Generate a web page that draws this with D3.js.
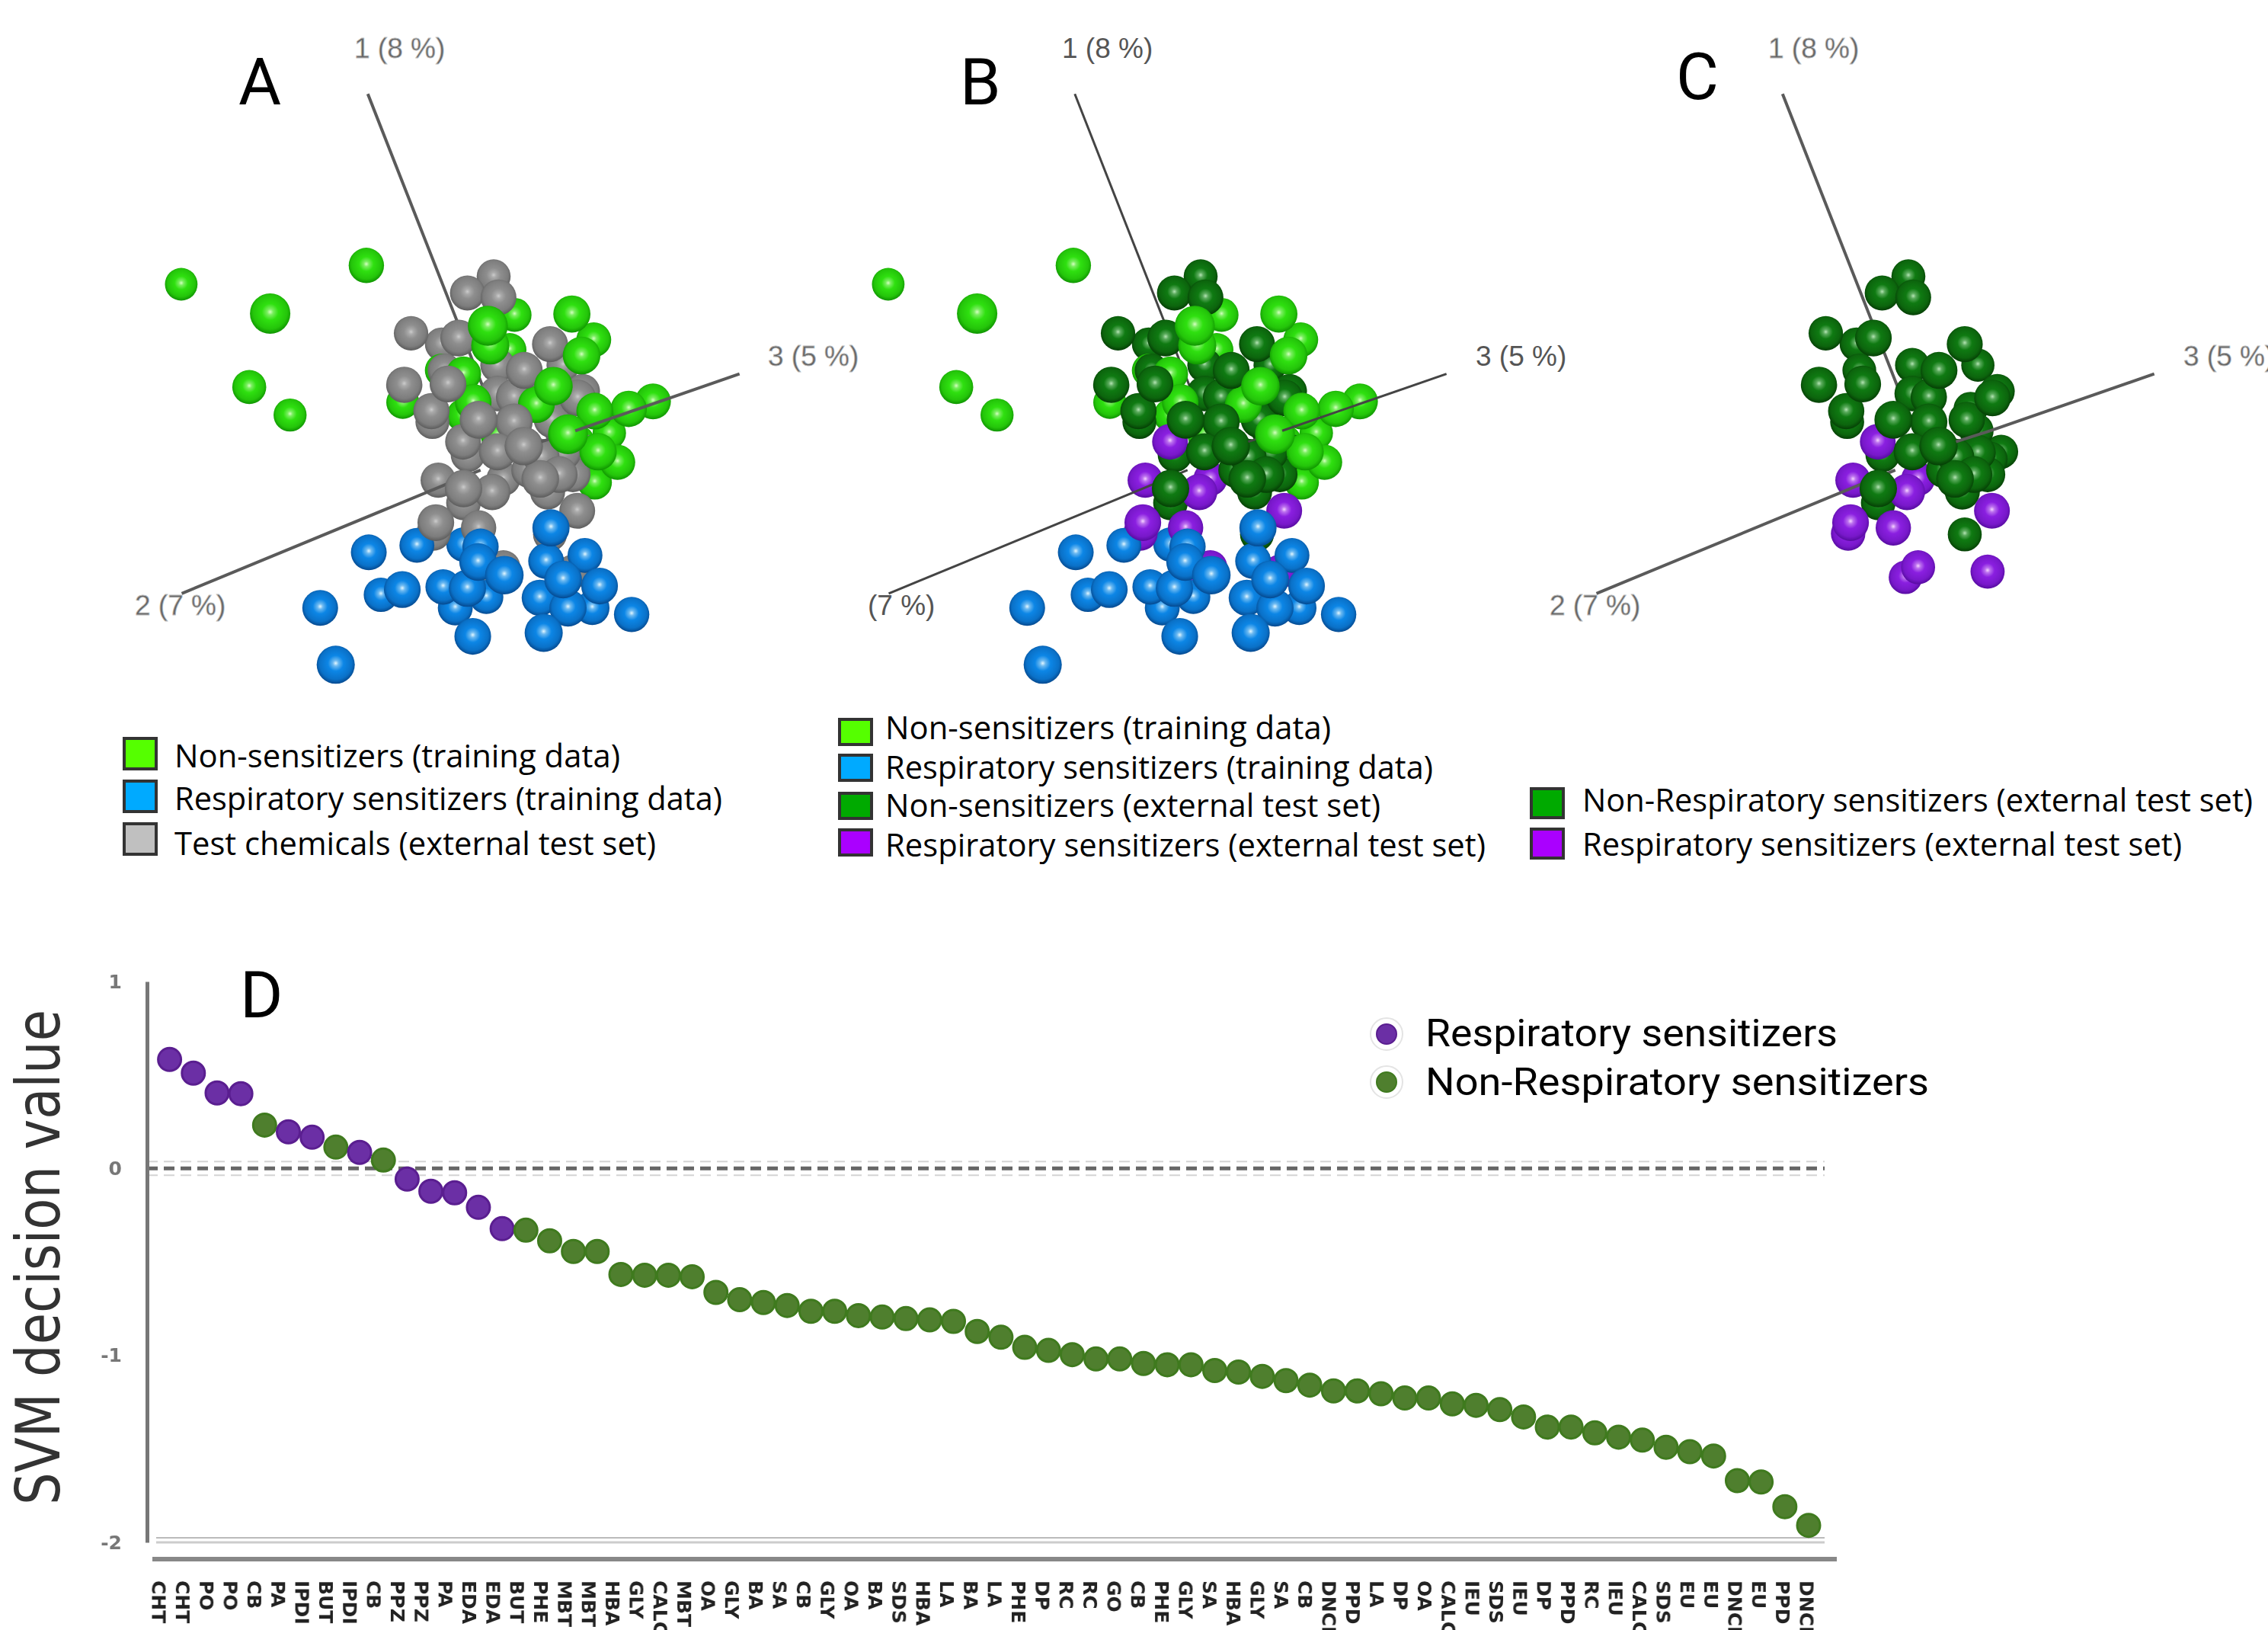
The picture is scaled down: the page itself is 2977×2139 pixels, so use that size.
<!DOCTYPE html>
<html>
<head>
<meta charset="utf-8">
<script src="https://cdn.jsdelivr.net/npm/d3@7"></script>
<style>
  html, body { margin: 0; background: #fff; }
  svg { display: block; }
</style>
</head>
<body>
<div id="chart"></div>
<script>
// projected scores: [axis x, axis y, depth]
const nonTrain = [
  [119,615,15],[302,682,100],[500,572,45],[259,850,30],[343,914,20],
  [805,685,30],[750,710,96],[755,755,75],[795,765,25],[923,683,65],[968,742,40],[943,778,70],
  [700,820,42],[885,848,80],[850,890,62],[720,885,58],[575,885,20],[1040,900,55],[1090,883,50],
  [970,905,60],[915,958,95],[977,998,66],[1017,1022,45],[970,1068,35],[700,915,28],[770,960,30],
  [935,975,28],[860,1020,25],[900,1000,30],[945,1030,28],[1000,955,24],[655,812,26]
];
const respTrain = [
  [505,1228,50],[604,1212,40],[700,1210,35],[735,1215,55],[730,1250,70],[784,1280,80],[530,1325,35],
  [574,1313,60],[658,1307,45],[708,1310,65],[683,1355,40],[747,1330,30],[405,1355,50],[437,1485,75],
  [719,1420,60],[865,1412,75],[880,1172,65],[870,1248,50],[950,1235,40],[857,1332,55],[905,1290,70],
  [980,1305,60],[915,1355,65],[965,1355,35],[1046,1370,45]
];
const nonExternal = [
  [762,597,30],[708,635,40],[772,645,50],[592,727,35],[655,752,25],[690,738,60],[770,800,35],
  [825,812,62],[878,752,52],[905,800,22],[661,812,28],[668,843,60],[578,845,55],[634,905,55],
  [636,930,30],[770,865,48],[804,873,56],[935,875,58],[945,860,40],[731,925,72],[804,930,65],
  [882,925,55],[902,950,35],[824,985,78],[770,998,65],[709,1005,35],[953,998,30],[858,1060,70],
  [897,1050,60],[925,1050,45],[873,1090,42],[700,1082,68],[700,1115,38],[878,1187,30],[890,900,32],[950,1000,22],
  [860,1010,58],[905,1000,50],[835,1040,48],[930,1015,44]
];
const respExternal = [
  [699,975,50],[648,1063,45],[782,1060,30],[759,1090,55],[643,1160,60],[638,1185,35],
  [731,1172,45],[934,1133,50],[782,1262,30],[756,1285,25],[925,1272,32]
];
// axis lines of the 3D view: from, to, depth
const axisLines = [
  [503,180,740,850,40],
  [120,1322,735,1040,47],
  [1268,820,930,950,200],
  [930,950,860,975,90]
];

// panel D
const compounds = ["CHT","CHT","PO","PO","CB","PA","IPDI","BUT","IPDI","CB","PPZ","PPZ","PA","EDA","EDA","BUT","PHE","MBT","MBT","HBA","GLY","CALC","MBT","OA","GLY",
  "BA","SA","CB","GLY","OA","BA","SDS","HBA","LA","BA","LA","PHE","DP","RC","RC","GO","CB","PHE","GLY","SA","HBA","GLY","SA","CB",
  "DNCB","PPD","LA","DP","OA","CALC","IEU","SDS","IEU","DP","PPD","RC","IEU","CALC","SDS","EU","EU","DNCB","EU","PPD","DNCB"];
const svmValues = [0.583,0.51,0.404,0.40,0.232,0.196,0.167,0.114,0.086,0.045,-0.057,-0.122,-0.13,-0.208,-0.322,-0.33,-0.387,-0.444,-0.444,-0.567,-0.571,-0.571,-0.579,
  -0.663,-0.702,-0.717,-0.733,-0.764,-0.764,-0.787,-0.795,-0.803,-0.81,-0.818,-0.872,-0.903,-0.957,-0.973,-0.996,-1.019,-1.019,-1.043,-1.05,-1.05,-1.081,-1.089,-1.112,
  -1.135,-1.159,-1.19,-1.19,-1.205,-1.228,-1.228,-1.259,-1.267,-1.29,-1.329,-1.383,-1.383,-1.414,-1.437,-1.453,-1.491,-1.515,-1.538,-1.67,-1.677,-1.809,-1.909];
// indexes of the compounds that are respiratory sensitizers
const respIndexes = [0,1,2,3,5,6,8,10,11,12,13,14];
const yTicks = [1,0,-1,-2];

const width = 2977, height = 2139;
const svg = d3.select("#chart").append("svg").attr("width", width).attr("height", height);
const defs = svg.append("defs");
defs.append("filter").attr("id","soft").append("feGaussianBlur").attr("stdDeviation",0.7);

const ballColors = {
  lime:   ["#d4ffc0","#2fe010","#0f9400"],
  blue:   ["#e2f7ff","#0c86e6","#05498f"],
  gray:   ["#cccccc","#8e8e8e","#5c5c5c"],
  forest: ["#b4e4b4","#0f7a12","#053e05"],
  violet: ["#f6d4ff","#8a1fe0","#560ba0"]
};
Object.keys(ballColors).forEach(function(k){
  const g = defs.append("radialGradient").attr("id","ball-"+k).attr("cx","50%").attr("cy","46%").attr("r","54%");
  const c = ballColors[k];
  g.append("stop").attr("offset","0%").attr("stop-color",c[0]);
  g.append("stop").attr("offset","14%").attr("stop-color",d3.interpolateRgb(c[0],c[1])(0.55));
  g.append("stop").attr("offset","38%").attr("stop-color",c[1]);
  g.append("stop").attr("offset","78%").attr("stop-color",d3.interpolateRgb(c[1],c[2])(0.35));
  g.append("stop").attr("offset","100%").attr("stop-color",c[2]);
});

const rScale = d3.scaleLinear().domain([0,100]).range([20.5,26.5]);

function draw3d(cfg){
  const x = d3.scaleLinear().domain([0,1568]).range([1090+cfg.dx, 2090+cfg.dx]);
  const y = d3.scaleLinear().domain([0,1568]).range([20,920]);
  const g = svg.append("g");

  let items = [];
  cfg.groups.forEach(function(gr){
    gr.data.forEach(function(d){ items.push({kind:"ball", color:gr.color, x:d[0], y:d[1], depth:d[2]}); });
  });
  axisLines.forEach(function(a){ items.push({kind:"axis", a:a, depth:a[4]}); });
  items.sort(function(p,q){ return d3.ascending(p.depth,q.depth); });

  items.forEach(function(d){
    if(d.kind=="axis"){
      g.append("line")
        .attr("x1",x(d.a[0])).attr("y1",y(d.a[1]))
        .attr("x2",x(d.a[2])).attr("y2",y(d.a[3]))
        .attr("stroke",cfg.axisColor).attr("stroke-width",cfg.axisWidth);
    } else {
      g.append("circle")
        .attr("cx",x(d.x)).attr("cy",y(d.y)).attr("r",rScale(d.depth))
        .attr("fill","url(#ball-"+d.color+")");
    }
  });

  cfg.labels.forEach(function(l){
    g.append("text").attr("x",l[1]).attr("y",l[2]).text(l[0])
      .style("font-family","'Liberation Sans'").style("font-size","37px")
      .style("fill",cfg.labelColor)
      .style("stroke",cfg.halo).style("stroke-width",0.8);
  });

  g.append("text").attr("x",cfg.letter[1]).attr("y",cfg.letter[2]).text(cfg.letter[0])
    .style("font-family","Roboto").style("font-size","86px").style("fill","#000");

  const lg = svg.append("g");
  cfg.legend.forEach(function(l){
    lg.append("rect").attr("x",cfg.swatchX).attr("y",l.y).attr("width",cfg.swatchW).attr("height",l.h)
      .attr("fill",l.color).attr("stroke","#333").attr("stroke-width",4);
    lg.append("text").attr("x",cfg.textX).attr("y",l.base).text(l.text)
      .attr("textLength",l.len).attr("lengthAdjust","spacingAndGlyphs")
      .style("font-family","'Open Sans'").style("font-size","42px").style("fill","#000");
  });
}

draw3d({
  dx:-928, axisColor:"#5a5a5a", axisWidth:4, halo:"#bbb", labelColor:"#666",
  groups:[{data:nonTrain,color:"lime"},{data:respTrain,color:"blue"},{data:nonExternal,color:"gray"},{data:respExternal,color:"gray"}],
  labels:[["1 (8 %)",465,76],["3 (5 %)",1008,480],["2 (7 %)",177,807]],
  letter:["A",313,137],
  swatchX:163, swatchW:42, textX:229,
  legend:[
    {y:969,h:40,base:1007,len:585,color:"#55ff00",text:"Non-sensitizers (training data)"},
    {y:1025,h:40,base:1063,len:719,color:"#00aaff",text:"Respiratory sensitizers (training data)"},
    {y:1081,h:40,base:1122,len:632,color:"#c0c0c0",text:"Test chemicals (external test set)"}
  ]
});
draw3d({
  dx:0, axisColor:"#444", axisWidth:3, halo:"none", labelColor:"#555",
  groups:[{data:nonTrain,color:"lime"},{data:respTrain,color:"blue"},{data:nonExternal,color:"forest"},{data:respExternal,color:"violet"}],
  labels:[["1 (8 %)",1394,76],["3 (5 %)",1937,480],["(7 %)",1139,807]],
  letter:["B",1260,137],
  swatchX:1102, swatchW:42, textX:1162,
  legend:[
    {y:944,h:33,base:970,len:585,color:"#55ff00",text:"Non-sensitizers (training data)"},
    {y:991,h:33,base:1022,len:719,color:"#00aaff",text:"Respiratory sensitizers (training data)"},
    {y:1041,h:33,base:1072,len:650,color:"#00aa00",text:"Non-sensitizers (external test set)"},
    {y:1089,h:33,base:1124,len:788,color:"#aa00ff",text:"Respiratory sensitizers (external test set)"}
  ]
});
draw3d({
  dx:929, axisColor:"#5a5a5a", axisWidth:4, halo:"#bbb", labelColor:"#666",
  groups:[{data:nonExternal,color:"forest"},{data:respExternal,color:"violet"}],
  labels:[["1 (8 %)",2321,76],["3 (5 %)",2866,480],["2 (7 %)",2034,807]],
  letter:["C",2200,130],
  swatchX:2010, swatchW:42, textX:2077,
  legend:[
    {y:1035,h:38,base:1065,len:880,color:"#00aa00",text:"Non-Respiratory sensitizers (external test set)"},
    {y:1088,h:38,base:1123,len:787,color:"#aa00ff",text:"Respiratory sensitizers (external test set)"}
  ]
});

// panel D
const idx = d3.range(compounds.length);
const xPt = d3.scalePoint().domain(idx).range([222.6,2374]);
const xLab = d3.scalePoint().domain(idx).range([208,2371]);
const yVal = d3.scaleLinear().domain([1,-2]).range([1288,2024]);

const d = svg.append("g");
d.append("text").attr("x",315).attr("y",1335).text("D")
  .style("font-family","Roboto").style("font-size","86px").style("fill","#000");

// the picture's resampling leaves pale ghost lines by the zero line
[-9,9].forEach(function(off){
  d.append("line").attr("x1",193).attr("x2",2395).attr("y1",yVal(0)+off).attr("y2",yVal(0)+off)
    .attr("stroke","#d4d4d4").attr("stroke-width",2).attr("stroke-dasharray","14 8");
});
d.append("line").attr("x1",193).attr("x2",2395).attr("y1",yVal(0)).attr("y2",yVal(0))
  .attr("stroke","#666").attr("stroke-width",5).attr("stroke-dasharray","14 8");

d.append("line").attr("x1",205).attr("x2",2395).attr("y1",2018).attr("y2",2018).attr("stroke","#bbb").attr("stroke-width",2);
d.append("line").attr("x1",205).attr("x2",2395).attr("y1",2024).attr("y2",2024).attr("stroke","#ccc").attr("stroke-width",3);

const yAxis = d.append("g").attr("transform","translate(193,0)")
  .call(d3.axisLeft(yVal).tickValues(yTicks).tickSize(0).tickPadding(33).tickFormat(function(v){ return String(v); }));
yAxis.select(".domain").attr("stroke","#777").attr("stroke-width",5);
yAxis.selectAll("text").attr("filter","url(#soft)")
  .style("font-family","'DejaVu Sans'").style("font-size","25px").style("font-weight","bold").style("fill","#777");

const xAxis = d.append("g").attr("transform","translate(0,2046)")
  .call(d3.axisBottom(xLab).tickFormat(function(i){ return compounds[i]; }).tickSize(0));
xAxis.select(".domain").remove();
xAxis.selectAll("text")
  .attr("transform","rotate(90)").attr("x",28).attr("y",0).attr("dy","0.35em")
  .attr("text-anchor","start").attr("filter","url(#soft)")
  .style("font-family","'DejaVu Sans'").style("font-size","25px").style("font-weight","bold").style("fill","#222");
d.append("line").attr("x1",200).attr("x2",2411).attr("y1",2046).attr("y2",2046).attr("stroke","#888").attr("stroke-width",6);

const dotFill = function(i){ return respIndexes.includes(i) ? "#6b2fa5" : "#4f7f2e"; };
const dotEdge = function(i){ return respIndexes.includes(i) ? "#5a1e90" : "#3f7a1e"; };
d.append("g").selectAll("circle").data(idx).enter().append("circle")
  .attr("cx",function(i){ return xPt(i); })
  .attr("cy",function(i){ return yVal(svmValues[i]); })
  .attr("r",15)
  .attr("fill",dotFill).attr("stroke",dotEdge).attr("stroke-width",3);

d.append("text").attr("transform","translate(78,1650) rotate(-90)").attr("text-anchor","middle")
  .attr("textLength",650).attr("lengthAdjust","spacingAndGlyphs").text("SVM decision value")
  .style("font-family","'DejaVu Sans'").style("font-size","80px").style("fill","#333");

const dLegend = [
  {y:1357,base:1373,len:541,color:"#6b2fa5",edge:"#5a1e90",text:"Respiratory sensitizers"},
  {y:1420,base:1437,len:661,color:"#4f7f2e",edge:"#3f7a1e",text:"Non-Respiratory sensitizers"}
];
dLegend.forEach(function(l){
  d.append("circle").attr("cx",1820).attr("cy",l.y).attr("r",21).attr("fill","none").attr("stroke","#e4e4e4").attr("stroke-width",2);
  d.append("circle").attr("cx",1820).attr("cy",l.y).attr("r",13).attr("fill",l.color).attr("stroke",l.edge).attr("stroke-width",2);
  d.append("text").attr("x",1871).attr("y",l.base).text(l.text)
    .attr("textLength",l.len).attr("lengthAdjust","spacingAndGlyphs")
    .style("font-family","Roboto").style("font-size","50px").style("fill","#000");
});
</script>
</body>
</html>
